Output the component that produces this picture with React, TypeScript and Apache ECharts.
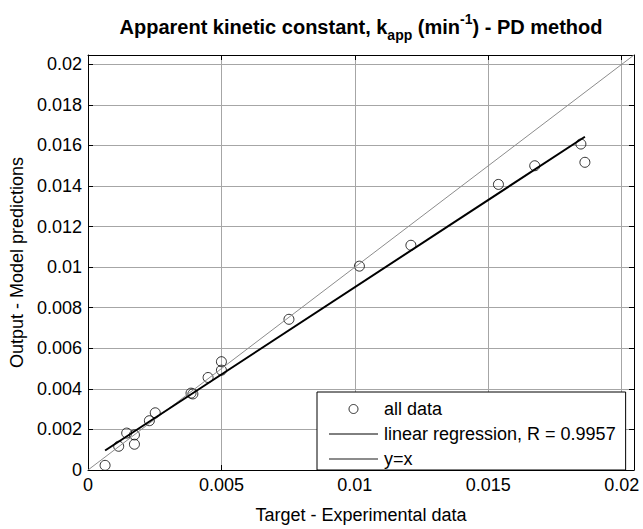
import React, { useEffect, useRef } from "react";
import * as echarts from "echarts";

const targetX = [0.00064, 0.00115, 0.00145, 0.00174, 0.00174, 0.0023, 0.00252, 0.00386, 0.00393, 0.0045, 0.005, 0.005, 0.00753, 0.01017, 0.0121, 0.01538, 0.01674, 0.01847, 0.01862];
const outputY = [0.00023, 0.00117, 0.00182, 0.00127, 0.00173, 0.00243, 0.00282, 0.00379, 0.00375, 0.00456, 0.00534, 0.00492, 0.00743, 0.01005, 0.01108, 0.01408, 0.015, 0.01607, 0.01517];
const regressionX = [0.00064, 0.01862];
const regressionY = [0.00096, 0.01643];
const axisMax = 0.02046;
const identityX = [0, axisMax];
const identityY = [0, axisMax];
const xInterval = 0.005;
const yInterval = 0.002;

const FONT = "'Liberation Sans', Arial, sans-serif";

function fmt(interval: number) {
  return (v: number) => {
    const r = v / interval;
    if (Math.abs(r - Math.round(r)) > 1e-6) return "";
    return String(parseFloat(v.toFixed(4)));
  };
}

export default function App() {
  const ref = useRef<HTMLDivElement>(null);
  useEffect(() => {
    if (!ref.current) return;
    const chart = echarts.init(ref.current, undefined, { renderer: "svg" });
    const axisLine = { show: true, onZero: false, lineStyle: { color: "#000", width: 1 } };
    const tick = { show: true, inside: true, length: 5, lineStyle: { color: "#000" } };
    chart.setOption({
      animation: false,
      backgroundColor: "#fff",
      graphic: [
        {
          type: "text",
          x: 361,
          y: 12,
          style: {
            text: "{a|Apparent kinetic constant, k}{s|app}{a| (min}{p|-1}{a|) - PD method}",
            align: "center",
            verticalAlign: "top",
            rich: {
              a: { fontFamily: FONT, fontWeight: "bold", fontSize: 20, fill: "#000", lineHeight: 30 },
              s: { fontFamily: FONT, fontWeight: "bold", fontSize: 14, fill: "#000", lineHeight: 14, verticalAlign: "bottom" },
              p: { fontFamily: FONT, fontWeight: "bold", fontSize: 14, fill: "#000", lineHeight: 14, verticalAlign: "top" },
            },
          },
        },
      ],
      grid: { left: 88, top: 55, width: 546, height: 422.5, containLabel: false },
      xAxis: [
        {
          type: "value",
          min: 0,
          max: axisMax,
          interval: xInterval,
          name: "Target - Experimental data",
          nameLocation: "middle",
          nameGap: 36,
          nameTextStyle: { fontFamily: FONT, fontSize: 18, color: "#000" },
          axisLine,
          axisTick: tick,
          axisLabel: { fontFamily: FONT, fontSize: 18, color: "#000", margin: 6, formatter: fmt(xInterval) },
          splitLine: { show: true, lineStyle: { color: "#a6a6a6", width: 1 } },
        },
        {
          type: "value",
          position: "top",
          min: 0,
          max: axisMax,
          interval: xInterval,
          axisLine,
          axisTick: tick,
          axisLabel: { show: false },
          splitLine: { show: false },
        },
      ],
      yAxis: [
        {
          type: "value",
          min: 0,
          max: axisMax,
          interval: yInterval,
          name: "Output - Model predictions",
          nameLocation: "middle",
          nameGap: 60,
          nameTextStyle: { fontFamily: FONT, fontSize: 18, color: "#000" },
          axisLine,
          axisTick: tick,
          axisLabel: { fontFamily: FONT, fontSize: 18, color: "#000", margin: 6, formatter: fmt(yInterval) },
          splitLine: { show: true, lineStyle: { color: "#a6a6a6", width: 1 } },
        },
        {
          type: "value",
          position: "right",
          min: 0,
          max: axisMax,
          interval: yInterval,
          axisLine,
          axisTick: tick,
          axisLabel: { show: false },
          splitLine: { show: false },
        },
      ],
      legend: {
        orient: "vertical",
        left: 317,
        top: 392,
        padding: [8, 10, 2, 11],
        itemGap: 7,
        itemWidth: 49,
        itemHeight: 9,
        backgroundColor: "#fff",
        borderColor: "#000",
        borderWidth: 1,
        borderRadius: 0,
        textStyle: { fontFamily: FONT, fontSize: 18, color: "#000", lineHeight: 18, padding: [0, 0, 0, 1] },
        data: [
          { name: "all data", itemStyle: { borderWidth: 1, color: "rgba(0,0,0,0)", borderColor: "#000" } },
          { name: "linear regression, R = 0.9957", lineStyle: { width: 1 }, itemStyle: { opacity: 0 } },
          { name: "y=x", itemStyle: { opacity: 0 } },
        ],
      },
      series: [
        {
          name: "y=x",
          type: "line",
          data: identityX.map((x, i) => [x, identityY[i]]),
          symbol: "none",
          showSymbol: false,
          lineStyle: { color: "#8c8c8c", width: 1 },
          itemStyle: { color: "#8c8c8c" },
        },
        {
          name: "linear regression, R = 0.9957",
          type: "line",
          data: regressionX.map((x, i) => [x, regressionY[i]]),
          symbol: "none",
          showSymbol: false,
          lineStyle: { color: "#000", width: 2 },
          itemStyle: { color: "#000" },
        },
        {
          name: "all data",
          type: "scatter",
          data: targetX.map((x, i) => [x, outputY[i]]),
          symbol: "circle",
          symbolSize: 10,
          itemStyle: { color: "rgba(0,0,0,0)", borderColor: "#000", borderWidth: 1 },
        },
      ],
    });
    return () => chart.dispose();
  }, []);
  return <div ref={ref} style={{ position: "fixed", left: 0, top: 0, width: 643, height: 529 }} />;
}
